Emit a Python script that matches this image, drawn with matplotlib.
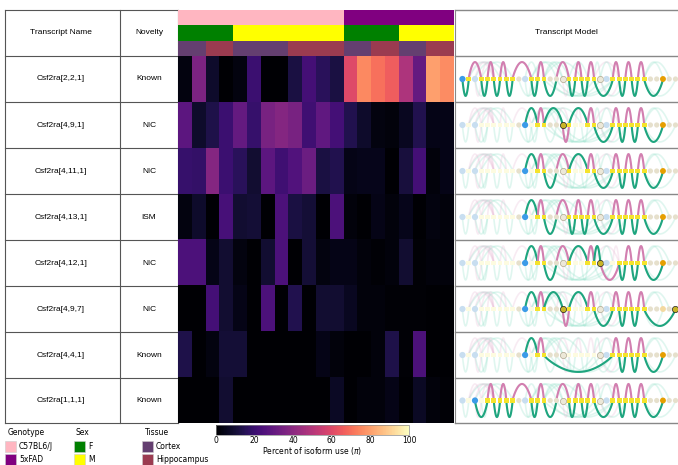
import matplotlib
matplotlib.use("Agg")
import matplotlib.pyplot as plt
from matplotlib.colors import ListedColormap
from matplotlib.patches import Rectangle
import numpy as np

W, H = 678, 465

transcripts = ["Csf2ra[2,2,1]", "Csf2ra[4,9,1]", "Csf2ra[4,11,1]", "Csf2ra[4,13,1]",
               "Csf2ra[4,12,1]", "Csf2ra[4,9,7]", "Csf2ra[4,4,1]", "Csf2ra[1,1,1]"]
novelty = ["Known", "NIC", "NIC", "ISM", "NIC", "NIC", "Known", "Known"]

pi_values = [
    [3, 36, 8, 0, 3, 20, 0, 0, 12, 22, 16, 12, 60, 75, 70, 66, 48, 30, 80, 76],
    [28, 8, 13, 20, 30, 19, 35, 38, 35, 21, 29, 22, 14, 8, 3, 2, 6, 14, 4, 4],
    [19, 18, 38, 20, 16, 9, 28, 21, 25, 32, 12, 14, 4, 5, 5, 0, 11, 22, 2, 4],
    [3, 8, 0, 23, 9, 10, 0, 24, 12, 10, 0, 24, 2, 0, 4, 2, 5, 0, 3, 2],
    [24, 24, 4, 9, 3, 0, 9, 24, 0, 10, 3, 4, 4, 2, 1, 2, 9, 1, 2, 2],
    [0, 0, 22, 9, 4, 0, 24, 0, 14, 0, 9, 9, 6, 2, 2, 1, 1, 1, 0, 0],
    [13, 0, 3, 10, 10, 0, 0, 0, 0, 0, 4, 2, 0, 0, 2, 13, 1, 24, 0, 0],
    [0, 0, 0, 9, 0, 0, 0, 0, 0, 0, 0, 7, 0, 2, 2, 4, 0, 7, 2, 1],
]

# column annotations, 0/1 index into the colour lists
genotype = [0] * 12 + [1] * 8
sex = [0] * 4 + [1] * 8 + [0] * 4 + [1] * 4
tissue = [0, 0, 1, 1, 0, 0, 0, 0, 1, 1, 1, 1, 0, 0, 1, 1, 0, 0, 1, 1]

genotype_colors = ["#ffb6c1", "#800080"]
sex_colors = ["#008000", "#ffff00"]
tissue_colors = ["#643f70", "#9b3b50"]

PINK = "#d27fb0"
GREEN = "#1fa57f"

# swan graph edges: (from node, to node, side), side 1 is above the line
tail = [(24, 25, 1), (25, 26, -1), (26, 27, 1), (27, 28, -1), (28, 29, 1)]
known_end = tail + [(29, 32, -1)]
row_edges = [
    [(0, 1, -1), (1, 3, 1), (3, 4, -1), (4, 5, 1), (5, 6, -1), (6, 7, 1), (7, 8, -1), (8, 11, 1),
     (11, 12, -1), (12, 13, 1), (13, 15, -1), (15, 17, 1), (17, 18, -1), (18, 19, 1), (19, 20, -1),
     (20, 21, 1), (21, 24, -1)] + known_end,
    [(10, 12, 1), (12, 13, 1), (13, 16, 1), (16, 17, -1), (17, 20, 1), (20, 21, 1), (21, 24, -1)] + known_end,
    [(10, 12, 1), (12, 13, 1), (13, 15, -1), (15, 17, 1), (17, 20, 1), (20, 21, 1), (21, 24, -1)] + known_end,
    [(10, 12, 1), (12, 13, 1), (13, 15, -1), (15, 17, 1), (17, 18, -1), (18, 19, 1), (19, 20, -1),
     (20, 21, 1), (21, 24, -1)] + known_end,
    [(10, 12, 1), (12, 13, 1), (13, 15, -1), (15, 17, 1), (17, 20, 1), (20, 21, 1), (21, 22, 1),
     (22, 25, -1), (25, 26, -1), (26, 27, 1), (27, 28, -1), (28, 29, 1), (29, 32, -1)],
    [(10, 12, 1), (12, 13, 1), (13, 16, 1), (16, 17, -1), (17, 20, 1), (20, 21, 1), (21, 24, -1)] + tail + [(29, 34, -1)],
    [(10, 12, 1), (12, 13, 1), (13, 24, -1)] + known_end,
    [(2, 4, -1), (4, 5, 1), (5, 6, -1), (6, 7, 1), (7, 8, -1), (8, 11, 1), (11, 12, -1), (12, 13, 1),
     (13, 15, -1), (15, 17, 1), (17, 18, -1), (18, 19, 1), (19, 20, -1), (20, 21, 1), (21, 24, -1)] + known_end,
]
# exon edges (pink), everything else is an intron (green)
exon_pairs = [(1, 3), (2, 3), (2, 5), (4, 5), (6, 7), (8, 11), (12, 13), (15, 17), (18, 19), (20, 21), (24, 25),
              (26, 27), (28, 29), (16, 17), (22, 25), (1, 5), (3, 5), (21, 25)]
# faint edges which belong to no row here
extra_pale = [(1, 5, 1), (2, 5, 1), (3, 5, 1), (1, 6, 1), (2, 7, 1), (3, 8, 1), (2, 3, -1), (0, 1, -1), (9, 12, -1),
              (10, 11, -1), (13, 19, 1), (11, 16, 1), (13, 17, 1), (15, 22, -1), (16, 24, -1), (21, 25, 1), (29, 32, 1),
              (22, 24, 1), (22, 26, -1), (14, 21, -1), (29, 33, 1), (11, 15, 1)]
novel_nodes = [[], [16], [], [], [22], [16, 34], [], []]

n_nodes = 35
tss_nodes = [0, 2, 10, 23]
tes_nodes = [32]
gray_nodes = [14, 15, 16, 22, 30, 31, 33, 34, 9]


def px_axes(fig, left, top, right, bottom):
    return fig.add_axes([left / W, 1 - bottom / H, (right - left) / W, (bottom - top) / H])


def draw_arc(ax, a, b, side, color, lw, alpha=1.0, zorder=2):
    t = np.linspace(0, 1, 40)
    x = a + (b - a) * t
    y = side * np.sin(np.pi * t) ** 0.8
    ax.plot(x, y, color=color, lw=lw, alpha=alpha, zorder=zorder, solid_capstyle="round")


def draw_model(ax, edges, novel):
    all_edges = set(e for r in row_edges for e in r) | set(extra_pale)
    for a, b, side in sorted(all_edges):
        color = "#e8b8d4" if (a, b) in exon_pairs else "#8fe0c8"
        draw_arc(ax, a, b, side, color, 1.2, alpha=0.28, zorder=1)
    active = set()
    for a, b, side in edges:
        active.update([a, b])
        draw_arc(ax, a, b, side, PINK if (a, b) in exon_pairs else GREEN, 1.5, zorder=2)
    for i in range(n_nodes):
        on = i in active
        marker = "o"
        if i in novel:
            fc, ec, s = "#c8b428", "#222222", 20
        elif i in tss_nodes:
            fc, ec, s = ("#3c9be8" if on else "#c8def0"), "none", 20
        elif i in tes_nodes:
            fc, ec, s = ("#e69f00" if on else "#f3d9a0"), "none", 18
        elif i in gray_nodes:
            fc, ec, s = "#e6e0cc", "none", 14
            if i in (16, 22):
                fc, ec, s = "#ece8d8", "#b0a890", 20
        else:
            fc, ec, s = ("#f5e32c" if on else "#fdfbe0"), "none", 12
            marker = "s"
        ax.scatter([i], [0], s=s, c=fc, edgecolors=ec, linewidths=0.5, zorder=4, marker=marker)
    ax.set_xlim(-1.03, 34.4)
    ax.set_ylim(-1.3, 1.3)
    ax.axis("off")


fig = plt.figure(figsize=(W / 100, H / 100), dpi=100)

# pixel overlay for the table lines, labels and legend
bg = fig.add_axes([0, 0, 1, 1])
bg.set_xlim(0, W)
bg.set_ylim(H, 0)
bg.axis("off")

row_tops = [56, 102, 148, 194, 240, 286, 332, 378]
row_bottom = 423
line_color = "#555555"
for y in [10] + row_tops + [row_bottom]:
    bg.plot([5, 178], [y, y], color=line_color, lw=0.8)
    bg.plot([455, 678], [y, y], color="#888888", lw=1.0)
for x in [5, 120, 178]:
    bg.plot([x, x], [10, row_bottom], color=line_color, lw=0.8)
bg.plot([455, 455], [10, row_bottom], color="#888888", lw=0.8)

table_font = "Liberation Sans"
bg.text(61, 33, "Transcript Name", ha="center", va="center", fontsize=6, family=table_font)
bg.text(149, 33, "Novelty", ha="center", va="center", fontsize=6, family=table_font)
bg.text(566, 33, "Transcript Model", ha="center", va="center", fontsize=6, family=table_font)
for i, top in enumerate(row_tops):
    bottom = row_tops[i + 1] if i < 7 else row_bottom
    mid = (top + bottom) / 2
    bg.text(61, mid, transcripts[i], ha="center", va="center", fontsize=6, family=table_font)
    bg.text(149, mid, novelty[i], ha="center", va="center", fontsize=6, family=table_font)

# annotation strips
strips = [(genotype, genotype_colors, 10, 25), (sex, sex_colors, 25, 41), (tissue, tissue_colors, 41, 56)]
for vals, cols, top, bottom in strips:
    ax = px_axes(fig, 178, top, 454, bottom)
    ax.pcolormesh(np.array([vals]), cmap=ListedColormap(cols), vmin=0, vmax=1)
    ax.axis("off")

# heatmap
ax = px_axes(fig, 178, 56, 454, row_bottom)
mesh = ax.pcolormesh(np.array(pi_values), cmap="magma", vmin=0, vmax=100)
ax.invert_yaxis()
ax.axis("off")

# transcript models
for i, top in enumerate(row_tops):
    bottom = row_tops[i + 1] if i < 7 else row_bottom
    ax = px_axes(fig, 456, top + 1, 678, bottom - 1)
    draw_model(ax, row_edges[i], novel_nodes[i])

# legend
legend_groups = [
    ("Genotype", 8, 5, ["C57BL6/J", "5xFAD"], genotype_colors),
    ("Sex", 76, 74, ["F", "M"], sex_colors),
    ("Tissue", 145, 142, ["Cortex", "Hippocampus"], tissue_colors),
]
for title, tx, px, labels, cols in legend_groups:
    bg.text(tx, 432, title, ha="left", va="center", fontsize=5.5)
    for j, (lab, col) in enumerate(zip(labels, cols)):
        y = 441 + j * 13
        bg.add_patch(Rectangle((px, y), 11, 11, fc=col, ec="#cccccc", lw=0.4))
        bg.text(px + 14, y + 5.5, lab, ha="left", va="center", fontsize=5.5)

# colour bar
cax = px_axes(fig, 216, 425, 409, 435)
cb = fig.colorbar(mesh, cax=cax, orientation="horizontal")
cb.set_ticks([0, 20, 40, 60, 80, 100])
cb.ax.tick_params(labelsize=5.5, length=0, pad=1)
cb.outline.set_linewidth(0.5)
cb.outline.set_edgecolor("#888888")
cb.set_label("Percent of isoform use ($\\pi$)", fontsize=5.5, labelpad=0)

fig.savefig("out.png", dpi=100)
